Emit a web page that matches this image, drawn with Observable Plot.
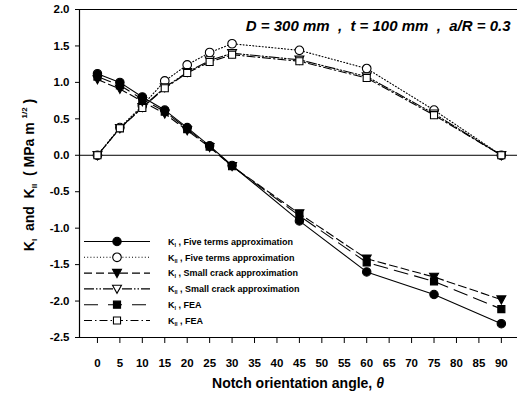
<!DOCTYPE html>
<html><head><meta charset="utf-8">
<script src="https://cdn.jsdelivr.net/npm/d3@7"></script>
<script src="https://cdn.jsdelivr.net/npm/@observablehq/plot@0.6"></script>
<style>
html,body{margin:0;padding:0;background:#fff;}
#chart{width:518px;height:394px;}
</style>
</head><body><div id="chart"></div>
<script>
const angles = [0, 5, 10, 15, 20, 25, 30, 45, 60, 75, 90];
const kI_five = [1.12, 1.00, 0.80, 0.62, 0.38, 0.13, -0.14, -0.90, -1.60, -1.91, -2.31];
const kII_five = [0.00, 0.38, 0.68, 1.02, 1.24, 1.41, 1.53, 1.44, 1.19, 0.62, 0.00];
const kI_small = [1.04, 0.91, 0.74, 0.57, 0.34, 0.11, -0.15, -0.80, -1.42, -1.67, -1.98];
const kII_small = [0.00, 0.37, 0.66, 0.93, 1.14, 1.30, 1.40, 1.31, 1.08, 0.57, 0.00];
const kI_fea = [1.08, 0.96, 0.77, 0.60, 0.36, 0.12, -0.15, -0.83, -1.47, -1.73, -2.11];
const kII_fea = [0.00, 0.37, 0.65, 0.92, 1.13, 1.28, 1.38, 1.29, 1.06, 0.55, 0.00];
const xTicks = [0,5,10,15,20,25,30,35,40,45,50,55,60,65,70,75,80,85,90];
const yTicks = [-2.5,-2.0,-1.5,-1.0,-0.5,0.0,0.5,1.0,1.5,2.0];
const legendLabels = [
  ["I", " , Five terms approximation"],
  ["II", " , Five terms approximation"],
  ["I", " , Small crack approximation"],
  ["II", " , Small crack approximation"],
  ["I", " , FEA"],
  ["II", " , FEA"]
];
const annotation = "D = 300 mm  ,  t = 100 mm  ,  a/R = 0.3";

const triDown = {draw(ctx, size){ const h = Math.sqrt(size*1.1); const w = h*0.6;
  ctx.moveTo(-w, -h*0.5); ctx.lineTo(w, -h*0.5); ctx.lineTo(0, h*0.6); ctx.closePath(); }};

const series = [
  {name:"kII_five", vals:kII_five, dash:"1,2.2", sym:"circle", fill:"white", r:4.3},
  {name:"kII_small", vals:kII_small, dash:"10,2,1.5,2,1.5,2", sym:triDown, fill:"white", r:4},
  {name:"kII_fea", vals:kII_fea, dash:"8,3,1.5,3", sym:"square", fill:"white", r:4},
  {name:"kI_small", vals:kI_small, dash:"8,4", sym:triDown, fill:"black", r:4},
  {name:"kI_fea", vals:kI_fea, dash:"14,7", sym:"square", fill:"black", r:4},
  {name:"kI_five", vals:kI_five, dash:null, sym:"circle", fill:"black", r:4.2}
];

const marks = [
  Plot.ruleY([0], {stroke:"black", strokeWidth:1}),
  Plot.ruleY([d3.max(yTicks)], {stroke:"black", strokeWidth:1}),
  Plot.ruleY([d3.min(yTicks)], {stroke:"black", strokeWidth:1.2}),
  Plot.ruleX([-4], {stroke:"black", strokeWidth:1.2}),
  Plot.axisX({ticks:xTicks, tickSize:6, tickPadding:15, label:null, fontSize:11.5, fontWeight:"bold"}),
  Plot.axisY({ticks:yTicks, tickSize:4, tickPadding:6, label:null, tickFormat:d=>d.toFixed(1), fontSize:11.5, fontWeight:"bold"})
];
for (const s of series) {
  const data = angles.map((a,i)=>({x:a, y:s.vals[i]}));
  marks.push(Plot.line(data, {x:"x", y:"y", stroke:"black", strokeWidth:1.1, strokeDasharray:s.dash || undefined}));
}
for (const s of series) {
  const data = angles.map((a,i)=>({x:a, y:s.vals[i]}));
  marks.push(Plot.dot(data, {x:"x", y:"y", symbol:()=>s.sym, r:s.r, fill:s.fill, stroke:"black", strokeWidth:1.1}));
}
marks.push(Plot.text([annotation], {frameAnchor:"top-right", dx:-7, dy:17, lineAnchor:"middle", fontSize:15, fontWeight:"bold", fontStyle:"italic", text:d=>d}));

const chart = Plot.plot({
  width:518, height:394,
  marginLeft:79, marginRight:1, marginTop:9, marginBottom:57,
  style:{fontFamily:"'Liberation Sans', Arial, sans-serif", color:"black", background:"white"},
  x:{domain:[-4, 93.6]},
  y:{domain:[-2.5, 2.0]},
  symbol:{type:"identity"},
  marks
});
document.getElementById("chart").appendChild(chart);

const svg = d3.select(chart);
const ff = "'Liberation Sans', Arial, sans-serif";
// x label
const xl = svg.append("text").attr("x", 298).attr("y", 388).attr("text-anchor","middle")
  .attr("font-family", ff).attr("font-size", 14).attr("font-weight","bold").attr("fill","black");
xl.append("tspan").text("Notch orientation angle, ");
xl.append("tspan").attr("font-style","italic").text("θ");
// y label
const yl = svg.append("text").attr("transform","translate(34,175) rotate(-90)").attr("text-anchor","middle")
  .attr("font-family", ff).attr("font-size", 14).attr("font-weight","bold").attr("fill","black").style("white-space","pre");
yl.append("tspan").text("K");
yl.append("tspan").attr("font-size",8).attr("dy",3).text("I");
yl.append("tspan").attr("dy",-3).text("  and  K");
yl.append("tspan").attr("font-size",8).attr("dy",3).text("II");
yl.append("tspan").attr("dy",-3).text("  ( MPa m ");
yl.append("tspan").attr("font-size",8).attr("dy",-7).text("1/2");
yl.append("tspan").attr("dy",7).text(" )");

// legend
const legOrder = ["kI_five","kII_five","kI_small","kII_small","kI_fea","kII_fea"];
const legDash = {kI_five:null, kII_five:"1,2.2", kI_small:"8,4", kII_small:"10,2,1.5,2,1.5,2", kI_fea:"14,10", kII_fea:"8,3,1.5,3"};
const lg = svg.append("g").attr("text-anchor","start");
legOrder.forEach((name,i)=>{
  const s = series.find(d=>d.name===name);
  const y = 241.5 + i*15.8;
  lg.append("line").attr("x1",84).attr("x2",150).attr("y1",y).attr("y2",y)
    .attr("stroke","black").attr("stroke-width",1.1).attr("stroke-dasharray", legDash[name]);
  const symObj = typeof s.sym === "string" ? (s.sym==="circle"? d3.symbolCircle : d3.symbolSquare) : s.sym;
  lg.append("path").attr("transform",`translate(117,${y})`).attr("d", d3.symbol(symObj, Math.PI*s.r*s.r)())
    .attr("fill", s.fill).attr("stroke","black").attr("stroke-width",1.1);
  const t = lg.append("text").attr("x",168).attr("y",y+3.3).attr("text-anchor","start").attr("font-family",ff).attr("font-size",9).attr("fill","black").attr("font-weight","bold").style("white-space","pre");
  t.append("tspan").text("K");
  t.append("tspan").attr("font-size",5.5).attr("dy",2).text(legendLabels[i][0]);
  t.append("tspan").attr("dy",-2).text(legendLabels[i][1]);
});
</script>
</body></html>
